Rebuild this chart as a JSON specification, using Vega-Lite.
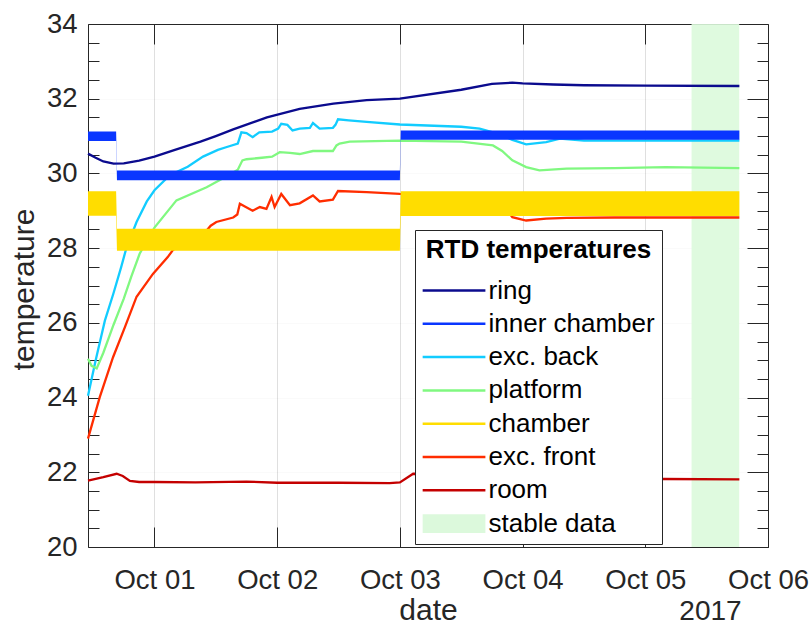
{
  "$schema": "https://vega.github.io/schema/vega-lite/v6.json",
  "width": 680,
  "height": 523,
  "autosize": {"type": "none"},
  "padding": {"left": 88, "top": 24, "right": 43, "bottom": 79},
  "background": "white",
  "config": {
    "font": "Liberation Sans",
    "view": {"stroke": "#262626", "strokeWidth": 1},
    "axis": {
      "labelFont": "Liberation Sans",
      "titleFont": "Liberation Sans",
      "labelColor": "#262626",
      "titleColor": "#262626",
      "tickColor": "#262626",
      "tickWidth": 1,
      "tickOpacity": 1,
      "domainColor": "#262626",
      "gridColor": "#262626",
      "gridOpacity": 0.15,
      "titleFontWeight": "normal",
      "labelFontSize": 27.5,
      "titleFontSize": 30
    }
  },
  "datasets": {
    "stable": [
      {"s": "stable data", "t": "2017-10-05T09:03", "t2": "2017-10-05T18:22"}
    ],
    "bands": [
      {"s": "chamber", "t": "2017-09-30T11:00", "lo": 28.87, "hi": 29.52},
      {"s": "chamber", "t": "2017-09-30T16:30", "lo": 28.87, "hi": 29.52},
      {"s": "chamber", "t": "2017-09-30T16:40", "lo": 27.93, "hi": 28.52},
      {"s": "chamber", "t": "2017-10-03T00:00", "lo": 27.93, "hi": 28.52},
      {"s": "chamber", "t": "2017-10-03T00:10", "lo": 28.86, "hi": 29.52},
      {"s": "chamber", "t": "2017-10-05T18:24", "lo": 28.86, "hi": 29.52},
      {"s": "inner chamber", "t": "2017-09-30T11:00", "lo": 30.87, "hi": 31.12},
      {"s": "inner chamber", "t": "2017-09-30T16:30", "lo": 30.87, "hi": 31.12},
      {"s": "inner chamber", "t": "2017-09-30T16:40", "lo": 29.82, "hi": 30.08},
      {"s": "inner chamber", "t": "2017-10-03T00:00", "lo": 29.82, "hi": 30.08},
      {"s": "inner chamber", "t": "2017-10-03T00:10", "lo": 30.9, "hi": 31.15},
      {"s": "inner chamber", "t": "2017-10-05T18:24", "lo": 30.9, "hi": 31.15}
    ],
    "lines": [
      {"s": "ring", "t": "2017-09-30T11:00", "v": 30.53},
      {"s": "ring", "t": "2017-09-30T12:30", "v": 30.42},
      {"s": "ring", "t": "2017-09-30T14:00", "v": 30.32},
      {"s": "ring", "t": "2017-09-30T16:00", "v": 30.26},
      {"s": "ring", "t": "2017-09-30T18:00", "v": 30.27},
      {"s": "ring", "t": "2017-09-30T21:00", "v": 30.34},
      {"s": "ring", "t": "2017-10-01T00:00", "v": 30.45},
      {"s": "ring", "t": "2017-10-01T04:00", "v": 30.63},
      {"s": "ring", "t": "2017-10-01T09:00", "v": 30.85},
      {"s": "ring", "t": "2017-10-01T12:00", "v": 31.0},
      {"s": "ring", "t": "2017-10-01T15:24", "v": 31.18},
      {"s": "ring", "t": "2017-10-01T22:00", "v": 31.5},
      {"s": "ring", "t": "2017-10-02T04:24", "v": 31.73},
      {"s": "ring", "t": "2017-10-02T11:00", "v": 31.87},
      {"s": "ring", "t": "2017-10-02T17:30", "v": 31.96},
      {"s": "ring", "t": "2017-10-03T00:00", "v": 32.0},
      {"s": "ring", "t": "2017-10-03T12:00", "v": 32.24},
      {"s": "ring", "t": "2017-10-03T18:00", "v": 32.4},
      {"s": "ring", "t": "2017-10-03T22:00", "v": 32.43},
      {"s": "ring", "t": "2017-10-04T00:00", "v": 32.41},
      {"s": "ring", "t": "2017-10-04T06:00", "v": 32.38},
      {"s": "ring", "t": "2017-10-04T12:00", "v": 32.36},
      {"s": "ring", "t": "2017-10-05T00:00", "v": 32.35},
      {"s": "ring", "t": "2017-10-05T18:24", "v": 32.34},

      {"s": "exc. back", "t": "2017-09-30T11:00", "v": 24.05},
      {"s": "exc. back", "t": "2017-09-30T12:30", "v": 25.0},
      {"s": "exc. back", "t": "2017-09-30T14:18", "v": 26.06},
      {"s": "exc. back", "t": "2017-09-30T16:00", "v": 26.8},
      {"s": "exc. back", "t": "2017-09-30T17:30", "v": 27.5},
      {"s": "exc. back", "t": "2017-09-30T18:30", "v": 28.0},
      {"s": "exc. back", "t": "2017-09-30T20:30", "v": 28.7},
      {"s": "exc. back", "t": "2017-09-30T22:30", "v": 29.25},
      {"s": "exc. back", "t": "2017-10-01T00:00", "v": 29.55},
      {"s": "exc. back", "t": "2017-10-01T03:00", "v": 29.95},
      {"s": "exc. back", "t": "2017-10-01T06:30", "v": 30.18},
      {"s": "exc. back", "t": "2017-10-01T09:30", "v": 30.45},
      {"s": "exc. back", "t": "2017-10-01T12:24", "v": 30.63},
      {"s": "exc. back", "t": "2017-10-01T14:00", "v": 30.7},
      {"s": "exc. back", "t": "2017-10-01T16:18", "v": 30.8},
      {"s": "exc. back", "t": "2017-10-01T17:00", "v": 31.1},
      {"s": "exc. back", "t": "2017-10-01T18:00", "v": 31.08},
      {"s": "exc. back", "t": "2017-10-01T19:12", "v": 30.97},
      {"s": "exc. back", "t": "2017-10-01T20:30", "v": 31.1},
      {"s": "exc. back", "t": "2017-10-01T23:00", "v": 31.12},
      {"s": "exc. back", "t": "2017-10-02T00:12", "v": 31.2},
      {"s": "exc. back", "t": "2017-10-02T00:48", "v": 31.33},
      {"s": "exc. back", "t": "2017-10-02T02:00", "v": 31.3},
      {"s": "exc. back", "t": "2017-10-02T03:00", "v": 31.15},
      {"s": "exc. back", "t": "2017-10-02T04:24", "v": 31.2},
      {"s": "exc. back", "t": "2017-10-02T06:24", "v": 31.22},
      {"s": "exc. back", "t": "2017-10-02T07:00", "v": 31.35},
      {"s": "exc. back", "t": "2017-10-02T08:18", "v": 31.2},
      {"s": "exc. back", "t": "2017-10-02T10:54", "v": 31.22},
      {"s": "exc. back", "t": "2017-10-02T11:24", "v": 31.3},
      {"s": "exc. back", "t": "2017-10-02T11:54", "v": 31.45},
      {"s": "exc. back", "t": "2017-10-02T14:00", "v": 31.42},
      {"s": "exc. back", "t": "2017-10-02T17:30", "v": 31.38},
      {"s": "exc. back", "t": "2017-10-03T00:00", "v": 31.31},
      {"s": "exc. back", "t": "2017-10-03T12:00", "v": 31.25},
      {"s": "exc. back", "t": "2017-10-03T15:36", "v": 31.2},
      {"s": "exc. back", "t": "2017-10-03T18:54", "v": 31.07},
      {"s": "exc. back", "t": "2017-10-03T22:00", "v": 30.9},
      {"s": "exc. back", "t": "2017-10-04T00:42", "v": 30.78},
      {"s": "exc. back", "t": "2017-10-04T04:36", "v": 30.84},
      {"s": "exc. back", "t": "2017-10-04T07:18", "v": 30.93},
      {"s": "exc. back", "t": "2017-10-04T12:00", "v": 30.88},
      {"s": "exc. back", "t": "2017-10-05T00:00", "v": 30.88},
      {"s": "exc. back", "t": "2017-10-05T18:24", "v": 30.88},

      {"s": "platform", "t": "2017-09-30T11:00", "v": 25.04},
      {"s": "platform", "t": "2017-09-30T11:42", "v": 24.85},
      {"s": "platform", "t": "2017-09-30T12:42", "v": 24.78},
      {"s": "platform", "t": "2017-09-30T14:00", "v": 25.2},
      {"s": "platform", "t": "2017-09-30T16:00", "v": 25.95},
      {"s": "platform", "t": "2017-09-30T18:00", "v": 26.65},
      {"s": "platform", "t": "2017-09-30T19:30", "v": 27.25},
      {"s": "platform", "t": "2017-09-30T21:06", "v": 27.85},
      {"s": "platform", "t": "2017-10-01T00:00", "v": 28.55},
      {"s": "platform", "t": "2017-10-01T04:18", "v": 29.28},
      {"s": "platform", "t": "2017-10-01T10:12", "v": 29.63},
      {"s": "platform", "t": "2017-10-01T14:30", "v": 29.95},
      {"s": "platform", "t": "2017-10-01T16:18", "v": 30.1},
      {"s": "platform", "t": "2017-10-01T17:12", "v": 30.35},
      {"s": "platform", "t": "2017-10-01T18:00", "v": 30.38},
      {"s": "platform", "t": "2017-10-01T21:00", "v": 30.42},
      {"s": "platform", "t": "2017-10-01T23:00", "v": 30.45},
      {"s": "platform", "t": "2017-10-02T00:30", "v": 30.57},
      {"s": "platform", "t": "2017-10-02T02:30", "v": 30.55},
      {"s": "platform", "t": "2017-10-02T04:24", "v": 30.52},
      {"s": "platform", "t": "2017-10-02T07:00", "v": 30.6},
      {"s": "platform", "t": "2017-10-02T10:54", "v": 30.6},
      {"s": "platform", "t": "2017-10-02T11:36", "v": 30.75},
      {"s": "platform", "t": "2017-10-02T12:12", "v": 30.8},
      {"s": "platform", "t": "2017-10-02T14:12", "v": 30.85},
      {"s": "platform", "t": "2017-10-03T00:00", "v": 30.88},
      {"s": "platform", "t": "2017-10-03T12:00", "v": 30.85},
      {"s": "platform", "t": "2017-10-03T18:12", "v": 30.75},
      {"s": "platform", "t": "2017-10-03T20:00", "v": 30.6},
      {"s": "platform", "t": "2017-10-03T22:00", "v": 30.35},
      {"s": "platform", "t": "2017-10-04T00:42", "v": 30.17},
      {"s": "platform", "t": "2017-10-04T03:18", "v": 30.08},
      {"s": "platform", "t": "2017-10-04T08:36", "v": 30.13},
      {"s": "platform", "t": "2017-10-04T18:00", "v": 30.14},
      {"s": "platform", "t": "2017-10-05T04:00", "v": 30.17},
      {"s": "platform", "t": "2017-10-05T18:24", "v": 30.14},

      {"s": "exc. front", "t": "2017-09-30T11:00", "v": 22.9},
      {"s": "exc. front", "t": "2017-09-30T13:18", "v": 24.01},
      {"s": "exc. front", "t": "2017-09-30T15:54", "v": 25.08},
      {"s": "exc. front", "t": "2017-09-30T18:12", "v": 25.88},
      {"s": "exc. front", "t": "2017-09-30T20:30", "v": 26.7},
      {"s": "exc. front", "t": "2017-09-30T23:42", "v": 27.31},
      {"s": "exc. front", "t": "2017-10-01T02:36", "v": 27.76},
      {"s": "exc. front", "t": "2017-10-01T03:36", "v": 27.95},
      {"s": "exc. front", "t": "2017-10-01T08:12", "v": 28.35},
      {"s": "exc. front", "t": "2017-10-01T10:12", "v": 28.47},
      {"s": "exc. front", "t": "2017-10-01T11:00", "v": 28.6},
      {"s": "exc. front", "t": "2017-10-01T12:06", "v": 28.7},
      {"s": "exc. front", "t": "2017-10-01T15:24", "v": 28.82},
      {"s": "exc. front", "t": "2017-10-01T16:12", "v": 28.9},
      {"s": "exc. front", "t": "2017-10-01T16:42", "v": 29.19},
      {"s": "exc. front", "t": "2017-10-01T19:12", "v": 29.0},
      {"s": "exc. front", "t": "2017-10-01T20:36", "v": 29.1},
      {"s": "exc. front", "t": "2017-10-01T21:54", "v": 29.05},
      {"s": "exc. front", "t": "2017-10-01T22:54", "v": 29.37},
      {"s": "exc. front", "t": "2017-10-01T23:30", "v": 29.1},
      {"s": "exc. front", "t": "2017-10-02T00:48", "v": 29.45},
      {"s": "exc. front", "t": "2017-10-02T02:30", "v": 29.15},
      {"s": "exc. front", "t": "2017-10-02T04:24", "v": 29.2},
      {"s": "exc. front", "t": "2017-10-02T07:00", "v": 29.41},
      {"s": "exc. front", "t": "2017-10-02T08:18", "v": 29.25},
      {"s": "exc. front", "t": "2017-10-02T10:54", "v": 29.3},
      {"s": "exc. front", "t": "2017-10-02T11:54", "v": 29.53},
      {"s": "exc. front", "t": "2017-10-02T17:30", "v": 29.5},
      {"s": "exc. front", "t": "2017-10-03T00:00", "v": 29.45},
      {"s": "exc. front", "t": "2017-10-03T12:00", "v": 29.42},
      {"s": "exc. front", "t": "2017-10-03T18:00", "v": 29.4},
      {"s": "exc. front", "t": "2017-10-03T20:00", "v": 29.2},
      {"s": "exc. front", "t": "2017-10-03T22:00", "v": 28.83},
      {"s": "exc. front", "t": "2017-10-04T00:42", "v": 28.74},
      {"s": "exc. front", "t": "2017-10-04T04:36", "v": 28.79},
      {"s": "exc. front", "t": "2017-10-04T08:36", "v": 28.81},
      {"s": "exc. front", "t": "2017-10-04T18:00", "v": 28.82},
      {"s": "exc. front", "t": "2017-10-05T18:24", "v": 28.82},

      {"s": "room", "t": "2017-09-30T11:00", "v": 21.78},
      {"s": "room", "t": "2017-09-30T14:00", "v": 21.87},
      {"s": "room", "t": "2017-09-30T16:36", "v": 21.96},
      {"s": "room", "t": "2017-09-30T17:48", "v": 21.9},
      {"s": "room", "t": "2017-09-30T19:12", "v": 21.77},
      {"s": "room", "t": "2017-09-30T21:00", "v": 21.74},
      {"s": "room", "t": "2017-10-01T00:00", "v": 21.74},
      {"s": "room", "t": "2017-10-01T08:00", "v": 21.73},
      {"s": "room", "t": "2017-10-01T18:00", "v": 21.75},
      {"s": "room", "t": "2017-10-02T00:00", "v": 21.72},
      {"s": "room", "t": "2017-10-02T12:00", "v": 21.72},
      {"s": "room", "t": "2017-10-02T22:00", "v": 21.71},
      {"s": "room", "t": "2017-10-03T00:00", "v": 21.73},
      {"s": "room", "t": "2017-10-03T02:36", "v": 21.96},
      {"s": "room", "t": "2017-10-03T06:00", "v": 21.95},
      {"s": "room", "t": "2017-10-03T22:00", "v": 21.88},
      {"s": "room", "t": "2017-10-05T03:30", "v": 21.82},
      {"s": "room", "t": "2017-10-05T18:24", "v": 21.81}
    ]
  },
  "layer": [
    {
      "data": {"name": "stable"},
      "mark": {"type": "rect", "opacity": 0.9},
      "encoding": {
        "x": {
          "field": "t", "type": "temporal",
          "scale": {"domain": [{"year": 2017, "month": 9, "date": 30, "hours": 11}, {"year": 2017, "month": 10, "date": 6}], "nice": false},
          "axis": {
            "orient": "bottom", "offset": -20,
            "values": [{"year": 2017, "month": 10, "date": 1}, {"year": 2017, "month": 10, "date": 2}, {"year": 2017, "month": 10, "date": 3}, {"year": 2017, "month": 10, "date": 4}, {"year": 2017, "month": 10, "date": 5}, {"year": 2017, "month": 10, "date": 6}],
            "format": "%b %d",
            "ticks": true, "tickSize": 20,
            "domain": false, "grid": true,
            "labelPadding": 19, "labelFlush": false, "labelOverlap": false,
            "title": "date", "titleX": 340, "titleY": 92, "titleBaseline": "alphabetic", "titleAlign": "center", "titleFontSize": 30
          }
        },
        "x2": {"field": "t2"},
        "color": {
          "field": "s", "type": "nominal",
          "scale": {
            "domain": ["ring", "inner chamber", "exc. back", "platform", "chamber", "exc. front", "room", "stable data"],
            "range": ["#0b0b8e", "#0a36ff", "#12ccff", "#80f880", "#ffdd00", "#ff2d00", "#c40000", "#dcf9dc"]
          },
          "legend": {
            "orient": "none", "legendX": 327, "legendY": 206,
            "title": "RTD temperatures", "titleFontSize": 26, "titleFontWeight": "bold", "titleColor": "#000000",
            "titleAnchor": "middle", "titleAlign": "center", "titlePadding": 15, "titleLimit": 500,
            "labelFontSize": 26, "labelColor": "#000000", "labelFont": "Liberation Sans", "labelLimit": 400,
            "labelOffset": 45, "symbolOffset": -4,
            "symbolType": {"expr": "datum.value === 'stable data' ? 'M-1,-1.2L7,-1.2L7,1.2L-1,1.2Z' : 'M-1,0L7,0'"},
            "symbolSize": 246,
            "symbolStrokeWidth": {"expr": "datum.value === 'stable data' ? 0 : 2.5"},
            "symbolOpacity": 1,
            "padding": 6.5, "strokeColor": "#262626", "fillColor": "white", "rowPadding": 7.3
          }
        }
      }
    },
    {
      "data": {"name": "lines"},
      "mark": {"type": "line", "strokeWidth": 2.3},
      "encoding": {
        "x": {
          "field": "t", "type": "temporal",
          "axis": {
            "orient": "bottom", "offset": -523, "zindex": 1,
            "values": [{"year": 2017, "month": 10, "date": 1}, {"year": 2017, "month": 10, "date": 2}, {"year": 2017, "month": 10, "date": 3}, {"year": 2017, "month": 10, "date": 4}, {"year": 2017, "month": 10, "date": 5}],
            "labels": false, "domain": false, "grid": false,
            "ticks": true, "tickSize": 20,
            "title": null
          }
        },
        "y": {
          "field": "v", "type": "quantitative",
          "scale": {"domain": [20, 34], "nice": false, "zero": false},
          "axis": {
            "orient": "left", "offset": -11,
            "values": [20, 20.5, 21, 21.5, 22, 22.5, 23, 23.5, 24, 24.5, 25, 25.5, 26, 26.5, 27, 27.5, 28, 28.5, 29, 29.5, 30, 30.5, 31, 31.5, 32, 32.5, 33, 33.5, 34],
            "format": ".0f",
            "labelExpr": "datum.value % 2 === 0 ? datum.label : ''",
            "ticks": true, "tickSize": 11,
            "domain": false, "grid": true,
            "gridOpacity": {"condition": {"test": "datum.value % 2 === 0", "value": 0.15}, "value": 0},
            "labelPadding": 11, "labelOverlap": false, "labelFlush": false,
            "title": "temperature", "titleX": -66, "titleY": 265, "titleAngle": 270,
            "titleAlign": "center", "titleBaseline": "alphabetic", "titleFontSize": 30
          }
        },
        "color": {"field": "s", "type": "nominal"}
      }
    },
    {
      "data": {"name": "bands"},
      "transform": [{"filter": "datum.s === 'chamber'"}],
      "mark": {"type": "area", "opacity": 1},
      "encoding": {
        "x": {
          "field": "t", "type": "temporal",
          "axis": {
            "orient": "top", "offset": -523, "zindex": 1,
            "values": [{"year": 2017, "month": 10, "date": 1}],
            "labels": false, "domain": false, "grid": false, "ticks": false,
            "title": "2017", "titleX": 622, "titleY": 72, "titleBaseline": "alphabetic", "titleAlign": "center", "titleFontSize": 28
          }
        },
        "y": {
          "field": "lo", "type": "quantitative",
          "scale": {"domain": [20, 34], "nice": false, "zero": false},
          "axis": {
            "orient": "left", "offset": -680, "zindex": 1,
            "values": [20, 22, 24, 26, 28, 30, 32, 34],
            "labels": false, "domain": false, "grid": false,
            "ticks": true, "tickSize": 21,
            "title": null
          }
        },
        "y2": {"field": "hi"},
        "color": {"field": "s", "type": "nominal"}
      }
    },
    {
      "data": {"name": "bands"},
      "transform": [{"filter": "datum.s === 'inner chamber'"}],
      "mark": {"type": "area", "opacity": 1},
      "encoding": {
        "x": {"field": "t", "type": "temporal", "axis": null},
        "y": {
          "field": "lo", "type": "quantitative",
          "scale": {"domain": [20, 34], "nice": false, "zero": false},
          "axis": {
            "orient": "left", "offset": -680, "zindex": 1,
            "values": [20.5, 21, 21.5, 22.5, 23, 23.5, 24.5, 25, 25.5, 26.5, 27, 27.5, 28.5, 29, 29.5, 30.5, 31, 31.5, 32.5, 33, 33.5],
            "labels": false, "domain": false, "grid": false,
            "ticks": true, "tickSize": 11,
            "title": null
          }
        },
        "y2": {"field": "hi"},
        "color": {"field": "s", "type": "nominal"}
      }
    }
  ],
  "resolve": {"axis": {"x": "independent", "y": "independent"}}
}
